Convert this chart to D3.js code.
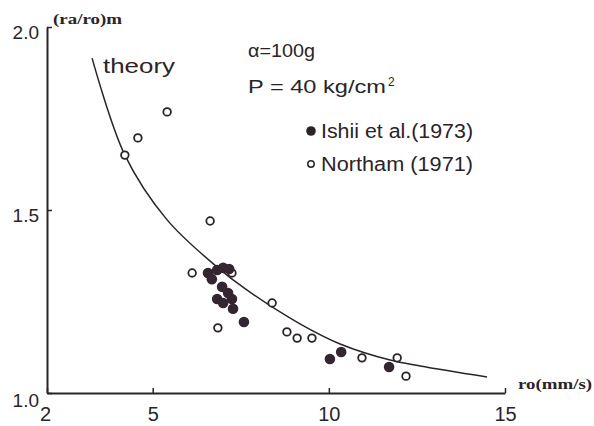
<!DOCTYPE html>
<html><head><meta charset="utf-8">
<script src="https://cdn.jsdelivr.net/npm/d3@7"></script>
<style>
html,body{margin:0;padding:0;background:#fff;}
svg{display:block;}
</style>
</head><body>
<svg id="chart" width="594" height="426"></svg>
<script>
// ---- data ----
const xTicks = [2, 5, 10, 15];
const yTicks = [1.0, 1.5, 2.0];
const yTickLabels = ["1.0", "1.5", "2.0"];

// theory curve
const theoryX = [3.28, 4.21, 5.41, 6.83, 7.68, 9.18, 10.32, 11.74, 12.59, 14.49];
const theoryY = [1.915, 1.650, 1.473, 1.344, 1.281, 1.189, 1.134, 1.090, 1.074, 1.044];

// Ishii et al. (1973) - filled
const ishiiX = [6.57, 6.68, 6.83, 7.00, 7.17, 6.97, 6.83, 7.14, 7.25, 7.28, 7.00, 7.59, 10.03, 10.35, 11.71];
const ishiiY = [1.328, 1.311, 1.336, 1.342, 1.339, 1.290, 1.257, 1.273, 1.257, 1.230, 1.246, 1.194, 1.093, 1.112, 1.071];

// Northam (1971) - open
const northamX = [4.21, 4.58, 5.41, 6.63, 6.12, 7.25, 8.39, 6.85, 8.81, 9.10, 9.52, 10.94, 11.94, 12.19];
const northamY = [1.650, 1.697, 1.768, 1.470, 1.328, 1.328, 1.246, 1.178, 1.167, 1.150, 1.150, 1.096, 1.096, 1.046];

const legendLabels = ["Ishii et al.(1973)", "Northam (1971)"];
const yAxisTitle = "(ra/ro)m";
const xAxisTitle = "ro(mm/s)";
const theoryLabel = "theory";
const paramLine1 = "α=100g";
const paramLine2 = "P = 40 kg/cm";
const paramSup = "2";

// ---- drawing ----
const svg = d3.select("#chart");
const ink = "#2a2428";
const sans = "'Liberation Sans', 'DejaVu Sans', sans-serif";
const serif = "'Liberation Serif', 'DejaVu Serif', serif";

const x = d3.scaleLinear().domain([2, 15]).range([47, 505]);
const y = d3.scaleLinear().domain([1, 2]).range([393, 27]);

// x axis
const gx = svg.append("g").attr("transform", `translate(0,${y(1)})`)
  .call(d3.axisBottom(x).tickValues(xTicks).tickSize(-5).tickSizeOuter(0).tickFormat(d3.format("d")));
gx.select(".domain").attr("stroke", ink).attr("stroke-width", 2);
gx.selectAll(".tick line").attr("stroke", ink).attr("stroke-width", 1.5);
gx.selectAll(".tick text").attr("fill", ink).attr("font-family", sans)
  .attr("font-size", 20).attr("y", 28).attr("dy", 0);
gx.selectAll(".tick").filter(d => d === 2).select("text").attr("x", -2);

// y axis
const gy = svg.append("g").attr("transform", `translate(${x(2)},0)`)
  .call(d3.axisLeft(y).tickValues(yTicks).tickSize(-5).tickSizeOuter(0)
    .tickFormat((d, i) => yTickLabels[i]));
gy.select(".domain").attr("stroke", ink).attr("stroke-width", 2);
gy.selectAll(".tick line").attr("stroke", ink).attr("stroke-width", 1.5);
gy.selectAll(".tick text").attr("fill", ink).attr("font-family", sans)
  .attr("font-size", 19).attr("x", -8).attr("dy", "0.6em");
gy.selectAll(".tick").filter(d => d === 1).select("text").attr("dy", "0.72em");

// axis titles
svg.append("text").attr("x", 53).attr("y", 24).text(yAxisTitle)
  .attr("font-family", serif).attr("font-weight", "bold").attr("font-size", 14).attr("fill", ink)
  .attr("textLength", 69).attr("lengthAdjust", "spacingAndGlyphs");
svg.append("text").attr("x", 518).attr("y", 389).text(xAxisTitle)
  .attr("font-family", serif).attr("font-weight", "bold").attr("font-size", 15).attr("fill", ink)
  .attr("textLength", 74).attr("lengthAdjust", "spacingAndGlyphs");

// theory curve
const theory = theoryX.map((d, i) => [d, theoryY[i]]);
svg.append("path").datum(theory)
  .attr("d", d3.line().x(d => x(d[0])).y(d => y(d[1])).curve(d3.curveCatmullRom.alpha(0.5)))
  .attr("fill", "none").attr("stroke", ink).attr("stroke-width", 1.5);

svg.append("text").attr("x", 103).attr("y", 73).text(theoryLabel)
  .attr("font-family", sans).attr("font-size", 21).attr("fill", ink)
  .attr("textLength", 72).attr("lengthAdjust", "spacingAndGlyphs");

// parameters
svg.append("text").attr("x", 248).attr("y", 57).text(paramLine1)
  .attr("font-family", sans).attr("font-size", 19).attr("fill", ink)
  .attr("textLength", 67).attr("lengthAdjust", "spacingAndGlyphs");
svg.append("text").attr("x", 248).attr("y", 93).text(paramLine2)
  .attr("font-family", sans).attr("font-size", 19).attr("fill", ink)
  .attr("textLength", 138).attr("lengthAdjust", "spacingAndGlyphs");
svg.append("text").attr("x", 388).attr("y", 86).text(paramSup)
  .attr("font-family", sans).attr("font-size", 12).attr("fill", ink);

// legend
svg.append("circle").attr("cx", 311).attr("cy", 131).attr("r", 4.8).attr("fill", ink);
svg.append("circle").attr("cx", 311).attr("cy", 164).attr("r", 3.2)
  .attr("fill", "#fff").attr("stroke", ink).attr("stroke-width", 1.5);
svg.append("text").attr("x", 321).attr("y", 138).text(legendLabels[0])
  .attr("font-family", sans).attr("font-size", 20).attr("fill", ink)
  .attr("textLength", 152).attr("lengthAdjust", "spacingAndGlyphs");
svg.append("text").attr("x", 321).attr("y", 171).text(legendLabels[1])
  .attr("font-family", sans).attr("font-size", 20).attr("fill", ink)
  .attr("textLength", 152).attr("lengthAdjust", "spacingAndGlyphs");

// points
const northam = northamX.map((d, i) => [d, northamY[i]]);
const ishii = ishiiX.map((d, i) => [d, ishiiY[i]]);

svg.append("g").selectAll("circle").data(northam).join("circle")
  .attr("cx", d => x(d[0])).attr("cy", d => y(d[1])).attr("r", 3.8)
  .attr("fill", "#fff").attr("stroke", ink).attr("stroke-width", 1.8);

svg.append("g").selectAll("circle").data(ishii).join("circle")
  .attr("cx", d => x(d[0])).attr("cy", d => y(d[1])).attr("r", 5.3)
  .attr("fill", "#332630");
</script>
</body></html>
